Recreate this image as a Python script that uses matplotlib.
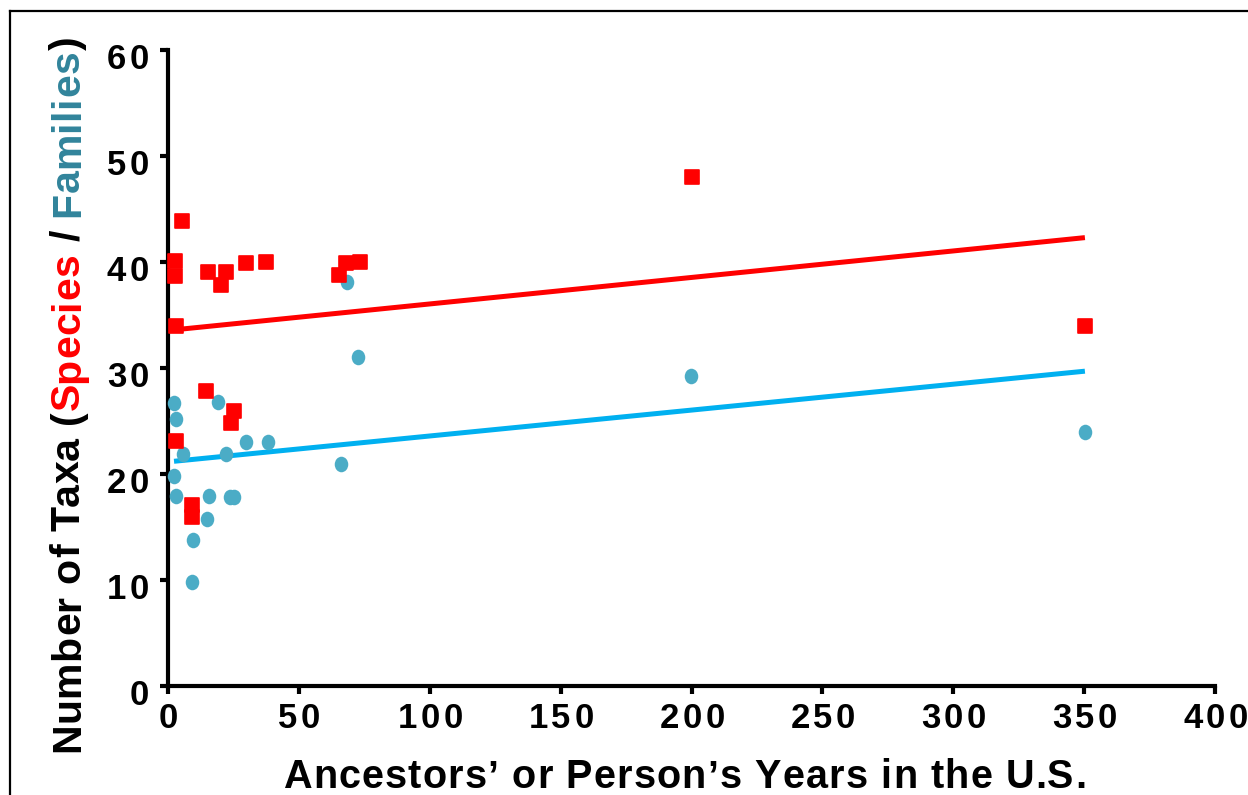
import numpy as np
import matplotlib
matplotlib.use("Agg")
import matplotlib.pyplot as plt
from matplotlib.path import Path
from matplotlib.markers import MarkerStyle
from matplotlib.lines import Line2D
from matplotlib.font_manager import FontProperties, findfont, get_font

# ---------------- data ----------------
species_years = [5.3, 2.7, 2.7, 2.9, 15.1, 20.1, 22.1, 29.7, 37.4, 65.5,
                 68.0, 73.4, 200.2, 350.3, 14.5, 25.4, 23.9, 2.9, 9.0, 9.0]
species_taxa = [43.9, 40.1, 38.7, 34.0, 39.1, 37.8, 39.1, 39.9, 40.0, 38.8,
                39.9, 40.0, 48.0, 34.0, 27.8, 25.9, 24.8, 23.1, 17.1, 15.9]

family_years = [2.3, 3.0, 19.2, 5.9, 22.2, 29.8, 38.1, 66.1, 2.3, 3.0,
                15.7, 23.7, 25.2, 14.8, 9.4, 9.0, 68.3, 72.7, 199.8, 350.3]
family_taxa = [26.7, 25.2, 26.8, 21.9, 21.9, 23.0, 23.0, 20.9, 19.8, 17.9,
               17.9, 17.8, 17.8, 15.8, 13.8, 9.8, 38.1, 31.0, 29.2, 24.0]

trend_years = [2.3, 350.3]
species_trend = [33.6, 42.3]
family_trend = [21.2, 29.7]

x_ticks = [0, 50, 100, 150, 200, 250, 300, 350, 400]
y_ticks = [0, 10, 20, 30, 40, 50, 60]
x_labels = [str(v) for v in x_ticks]
y_labels = [str(v) for v in y_ticks]

RED = "#FF0000"
DOT = "#4BACC6"
LINE_BLUE = "#00B0F0"
TEAL = "#31849B"

W, H = 1248, 795
FONT = "Liberation Sans"

fig = plt.figure(figsize=(W / 100, H / 100), dpi=100)
ax = fig.add_axes([168 / W, 1 - 686 / H, (1215 - 168) / W, (686 - 50) / H])

# markers
sq = MarkerStyle("s", joinstyle="round")
circ = Path.unit_circle()
ell = Path(circ.vertices * np.array([0.87, 1.0]), circ.codes)

ax.plot(trend_years, species_trend, color=RED, lw=3.6, solid_capstyle="butt", zorder=2)
ax.plot(trend_years, family_trend, color=LINE_BLUE, lw=3.6, solid_capstyle="butt", zorder=2)
ax.plot(family_years, family_taxa, linestyle="none", marker=ell, ms=11.2,
        mfc=DOT, mec=DOT, mew=0, clip_on=False, zorder=3)
ax.plot(species_years, species_taxa, linestyle="none", marker=sq, ms=10.2,
        mfc=RED, mec=RED, mew=1.2, clip_on=False, zorder=4)

ax.set_xlim(0, 400)
ax.set_ylim(0, 60)
ax.set_xticks(x_ticks)
ax.set_yticks(y_ticks)
ax.set_xticklabels([])
ax.set_yticklabels([])
for s in ("top", "right"):
    ax.spines[s].set_visible(False)
for s in ("left", "bottom"):
    ax.spines[s].set_linewidth(3)
    ax.spines[s].set_capstyle("projecting")
ax.tick_params(axis="both", direction="out", length=5.5, width=3, color="black")

# ---------------- spaced text helpers ----------------
def advances(text, fp):
    font = get_font(findfont(fp))
    font.set_size(fp.get_size_in_points(), 100)
    return [font.load_char(ord(c)).linearHoriAdvance / 65536.0 for c in text]


def draw_spaced(pieces, size, start, fixed, vertical, spacing=None, end=None):
    fp = FontProperties(family=FONT, weight="bold", size=size)
    chars, cols = [], []
    for txt, col in pieces:
        for c in txt:
            chars.append(c)
            cols.append(col)
    adv = advances("".join(chars), fp)
    if spacing is None:
        spacing = ((end - start) - sum(adv)) / max(len(chars) - 1, 1)
    pos = start
    for c, col, a in zip(chars, cols, adv):
        if c != " ":
            if vertical:
                fig.text(fixed / W, pos / H, c, rotation=90, rotation_mode="anchor",
                         ha="left", va="baseline", color=col, fontproperties=fp)
            else:
                fig.text(pos / W, fixed / H, c, ha="left", va="baseline",
                         color=col, fontproperties=fp)
        pos += a + spacing


def spaced_width(text, size, spacing):
    fp = FontProperties(family=FONT, weight="bold", size=size)
    adv = advances(text, fp)
    return sum(adv) + spacing * (len(text) - 1)


TICK_SIZE = 25
TICK_SP = 3.5

fig.canvas.draw()
to_px = ax.transData
for v, lab in zip(x_ticks, x_labels):
    px, _ = to_px.transform((v, 0))
    w = spaced_width(lab, TICK_SIZE, TICK_SP)
    draw_spaced([(lab, "black")], TICK_SIZE, px - w / 2 + 0.5, H - 728, False, spacing=TICK_SP)
for v, lab in zip(y_ticks, y_labels):
    _, py = to_px.transform((0, v))
    w = spaced_width(lab, TICK_SIZE, TICK_SP)
    draw_spaced([(lab, "black")], TICK_SIZE, 149 - w, py - 19, False, spacing=TICK_SP)

draw_spaced([("Ancestors\u2019 or Person\u2019s Years in the U.S.", "black")],
            28.5, 283, H - 788, False, end=1086)

draw_spaced([("Number of Taxa (", "black"), ("Species", RED), (" / ", "black"),
             ("Families", TEAL), (")", "black")],
            29.5, H - 752, 79, True, end=H - 36)

# figure frame (top and left edges visible)
fig.add_artist(Line2D([10 / W, 10 / W], [0, 1 - 11 / H], color="black", lw=1.6,
                      transform=fig.transFigure))
fig.add_artist(Line2D([10 / W, 1], [1 - 11 / H, 1 - 11 / H], color="black", lw=1.6,
                      transform=fig.transFigure))

fig.savefig("out.png", dpi=100)
